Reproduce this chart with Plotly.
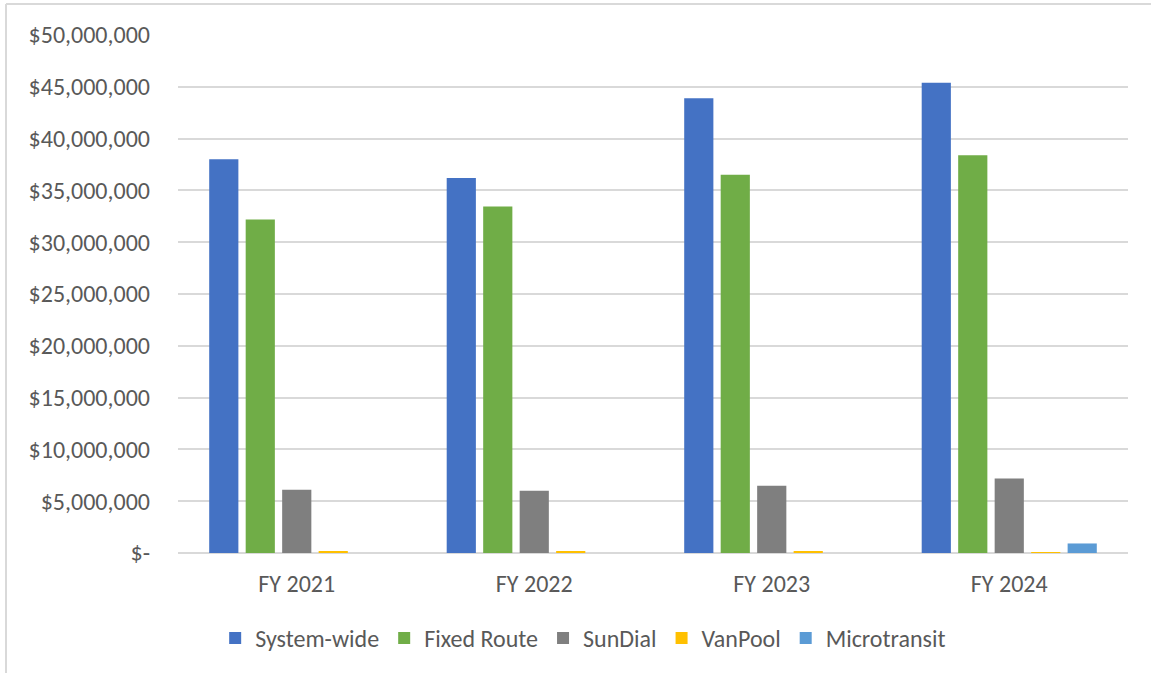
import plotly.graph_objects as go

# Fiscal years shown on the category axis
years = ["FY 2021", "FY 2022", "FY 2023", "FY 2024"]

# Cost by mode, in dollars
system_wide = [38_000_000, 36_200_000, 43_900_000, 45_400_000]
fixed_route = [32_200_000, 33_450_000, 36_500_000, 38_400_000]
sundial = [6_100_000, 6_000_000, 6_500_000, 7_200_000]
vanpool = [180_000, 170_000, 170_000, 80_000]
microtransit = [0, 0, 0, 920_000]

# Value-axis ticks
y_tickvals = [0, 5e6, 10e6, 15e6, 20e6, 25e6, 30e6, 35e6, 40e6, 45e6, 50e6]
y_ticktext = ["$-", "$5,000,000", "$10,000,000", "$15,000,000", "$20,000,000",
              "$25,000,000", "$30,000,000", "$35,000,000", "$40,000,000",
              "$45,000,000", "$50,000,000"]

series = [
    ("System-wide", system_wide, "#4472C4"),
    ("Fixed Route", fixed_route, "#70AD47"),
    ("SunDial", sundial, "#7F7F7F"),
    ("VanPool", vanpool, "#FFC000"),
    ("Microtransit", microtransit, "#5B9BD5"),
]

FONT = "Calibri, Carlito, Lato, 'Open Sans', sans-serif"
TEXT_COLOR = "#595959"
FS = 24

fig = go.Figure()
for name, vals, color in series:
    fig.add_trace(go.Bar(
        x=years, y=vals, name=name,
        marker=dict(color=color, line=dict(width=0)),
        hoverinfo="x+y+name",
    ))

W, H = 1151, 673
L, R, T, B = 178, 23, 35, 120

fig.update_layout(
    width=W, height=H,
    margin=dict(l=L, r=R, t=T, b=B),
    paper_bgcolor="white",
    plot_bgcolor="white",
    barmode="group",
    bargap=0.232,
    bargroupgap=0.2,
    font=dict(family=FONT, size=FS, color=TEXT_COLOR),
    showlegend=True,
    legend=dict(
        orientation="h",
        x=0.4265, xanchor="center",
        y=-0.165, yanchor="middle",
        font=dict(family=FONT, size=FS, color=TEXT_COLOR),
        itemwidth=30,
        traceorder="normal",
        bgcolor="rgba(0,0,0,0)",
    ),
    xaxis=dict(
        showgrid=False,
        showline=False,
        ticks="",
        tickfont=dict(family=FONT, size=FS, color=TEXT_COLOR),
        ticklabelstandoff=14,
    ),
    yaxis=dict(
        range=[0, 50e6],
        tickvals=y_tickvals,
        ticktext=y_ticktext,
        showgrid=True,
        gridcolor="#D9D9D9",
        gridwidth=2,
        zeroline=True,
        zerolinecolor="#D9D9D9",
        zerolinewidth=2,
        showline=False,
        ticks="",
        tickfont=dict(family=FONT, size=FS, color=TEXT_COLOR),
        ticklabelstandoff=27,
    ),
)

# Chart-area frame (left and top edges)
pw = W - L - R
ph = H - T - B
x_left = (6 - L) / pw
y_top = 1 + (T - 4) / ph
fig.add_shape(type="line", xref="paper", yref="paper",
              x0=x_left, x1=x_left, y0=y_top, y1=-1,
              line=dict(color="#D9D9D9", width=2))
fig.add_shape(type="line", xref="paper", yref="paper",
              x0=x_left, x1=2, y0=y_top, y1=y_top,
              line=dict(color="#D9D9D9", width=2))

fig.write_html("out.html")
